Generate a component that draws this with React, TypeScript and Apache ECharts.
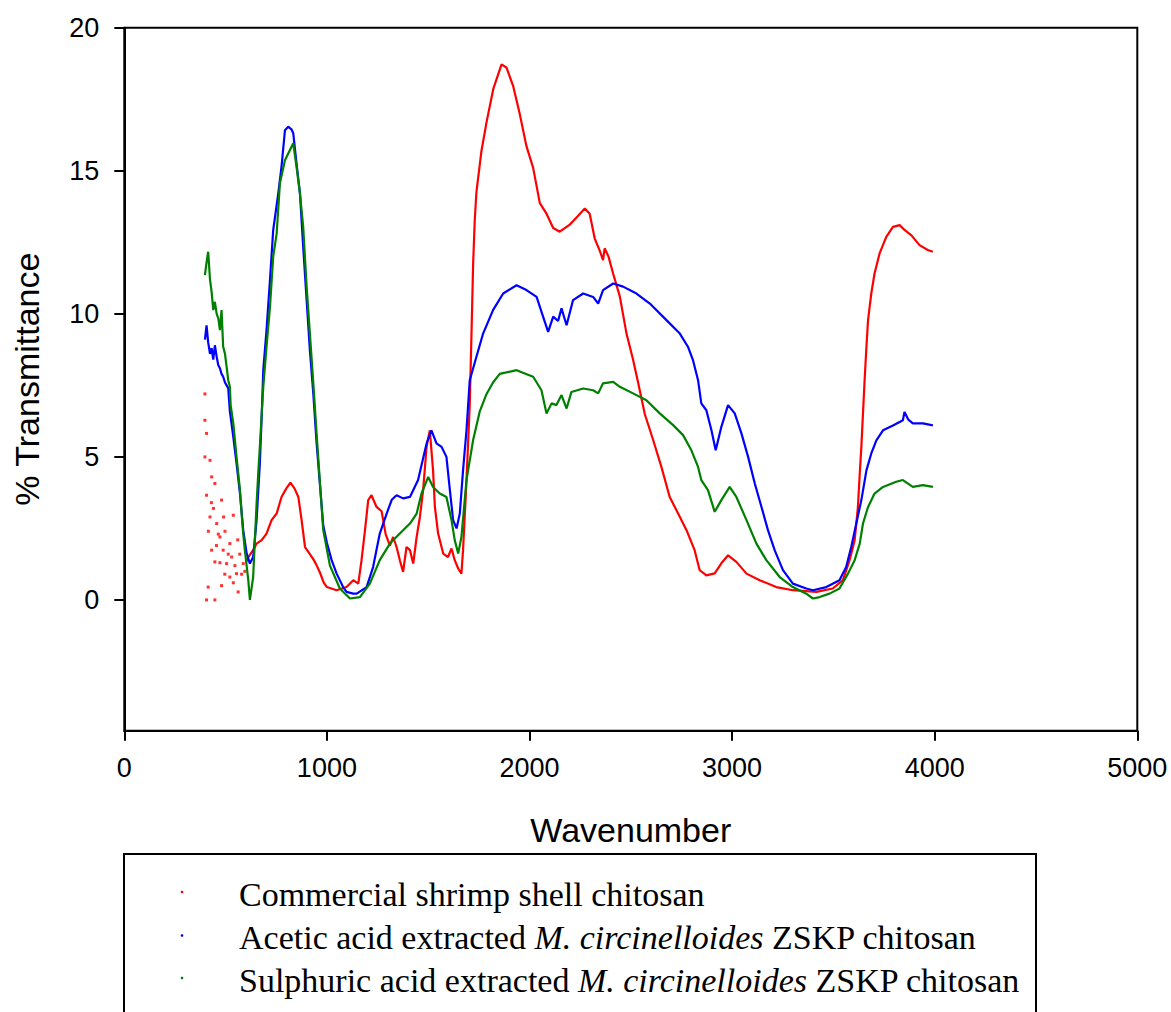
import React, { useEffect, useRef } from "react";
import * as echarts from "echarts";

// ---- Data (wavenumber, % transmittance) ----
const redNoiseWave = [398, 398, 406, 398, 423, 431, 406, 447, 423, 456, 480, 472, 431, 488, 538, 521, 447, 505, 554, 521, 562, 414, 406, 447, 587, 440, 464, 497, 513, 530, 546, 570, 579, 595, 496, 455, 472, 538, 480, 415, 430, 490, 560];
const redNoiseT = [7.2, 6.28, 5.82, 5.0, 4.88, 4.3, 3.66, 4.07, 2.9, 2.67, 3.49, 2.2, 1.74, 1.74, 2.96, 1.97, 1.33, 1.27, 0.92, 0.8, 0.28, 0.45, 0.0, 0.0, 1.27, 3.2, 2.3, 2.4, 1.6, 1.5, 1.2, 1.6, 0.9, 1.0, 0.9, 1.9, 1.3, 0.6, 0.5, 2.4, 3.4, 2.9, 2.1];

const redWave = [600, 612, 636, 653, 678, 702, 727, 752, 776, 800, 820, 840, 859, 875, 892, 916, 935, 950, 966, 985, 1000, 1048, 1097, 1130, 1155, 1171, 1188, 1204, 1220, 1245, 1270, 1290, 1311, 1327, 1344, 1360, 1376, 1393, 1410, 1426, 1443, 1459, 1475, 1492, 1508, 1524, 1533, 1549, 1574, 1598, 1615, 1631, 1648, 1664, 1672, 1681, 1689, 1705, 1714, 1722, 1730, 1738, 1763, 1788, 1821, 1862, 1887, 1919, 1952, 1985, 2018, 2051, 2084, 2117, 2149, 2199, 2232, 2273, 2297, 2322, 2347, 2363, 2371, 2390, 2413, 2446, 2479, 2511, 2536, 2569, 2610, 2651, 2692, 2725, 2775, 2815, 2840, 2873, 2914, 2947, 2980, 3021, 3071, 3136, 3218, 3300, 3416, 3497, 3547, 3580, 3605, 3621, 3630, 3638, 3646, 3654, 3663, 3671, 3687, 3703, 3728, 3761, 3794, 3827, 3851, 3884, 3925, 3966, 3991];
const redT = [1.3, 1.5, 1.74, 1.97, 2.09, 2.32, 2.79, 3.02, 3.6, 3.9, 4.1, 3.9, 3.6, 2.8, 1.85, 1.6, 1.4, 1.2, 0.95, 0.6, 0.45, 0.34, 0.45, 0.69, 0.57, 1.39, 2.44, 3.49, 3.66, 3.25, 3.1, 2.3, 1.9, 2.2, 1.85, 1.39, 0.98, 1.85, 1.74, 1.27, 2.2, 2.9, 3.84, 5.35, 5.93, 4.53, 3.25, 2.32, 1.62, 1.5, 1.8, 1.39, 1.1, 0.92, 1.74, 3.02, 4.19, 6.8, 9.4, 11.8, 13.3, 14.25, 15.7, 16.7, 17.85, 18.72, 18.6, 17.97, 16.98, 15.86, 15.1, 13.87, 13.5, 13.0, 12.87, 13.12, 13.37, 13.68, 13.5, 12.63, 12.2, 11.88, 12.29, 12.0, 11.4, 10.6, 9.3, 8.4, 7.6, 6.5, 5.6, 4.65, 3.6, 3.14, 2.44, 1.74, 1.04, 0.86, 0.93, 1.28, 1.56, 1.33, 0.92, 0.69, 0.45, 0.34, 0.28, 0.4, 0.69, 1.39, 2.09, 3.25, 4.42, 5.35, 6.52, 7.68, 8.85, 9.78, 10.71, 11.41, 12.11, 12.69, 13.04, 13.1, 12.93, 12.75, 12.4, 12.23, 12.17];

const blueWave = [398, 406, 414, 423, 431, 439, 447, 456, 464, 472, 480, 488, 497, 505, 513, 521, 538, 554, 571, 587, 604, 620, 636, 653, 669, 678, 686, 702, 719, 735, 760, 776, 793, 809, 825, 834, 850, 867, 883, 900, 916, 933, 949, 966, 982, 1000, 1023, 1048, 1080, 1097, 1130, 1147, 1196, 1228, 1261, 1295, 1320, 1344, 1376, 1410, 1450, 1492, 1516, 1541, 1566, 1590, 1607, 1623, 1640, 1656, 1672, 1689, 1705, 1738, 1771, 1820, 1870, 1936, 1985, 2035, 2067, 2092, 2117, 2141, 2158, 2183, 2215, 2265, 2314, 2339, 2363, 2413, 2462, 2528, 2594, 2676, 2742, 2782, 2807, 2832, 2848, 2873, 2898, 2919, 2947, 2980, 3013, 3046, 3079, 3112, 3145, 3177, 3210, 3251, 3300, 3366, 3399, 3465, 3530, 3563, 3588, 3613, 3638, 3663, 3687, 3712, 3745, 3794, 3843, 3851, 3870, 3892, 3942, 3991];
const blueT = [9.1, 9.6, 9.0, 8.6, 8.8, 8.4, 8.9, 8.5, 8.2, 8.1, 7.9, 7.8, 7.6, 7.5, 7.4, 6.6, 5.7, 4.77, 3.72, 2.44, 1.62, 1.27, 1.5, 2.79, 4.77, 6.4, 8.03, 9.43, 11.18, 12.93, 14.21, 15.14, 16.42, 16.54, 16.45, 16.31, 15.26, 14.21, 12.34, 10.48, 8.73, 7.2, 5.5, 4.0, 2.6, 2.0, 1.4, 0.92, 0.45, 0.28, 0.22, 0.22, 0.45, 1.15, 2.32, 3.02, 3.5, 3.66, 3.55, 3.6, 4.19, 5.47, 5.93, 5.47, 5.35, 5.0, 3.84, 2.79, 2.5, 3.02, 4.53, 5.93, 7.68, 8.5, 9.31, 10.13, 10.71, 11.0, 10.83, 10.59, 9.9, 9.37, 9.9, 9.75, 10.19, 9.6, 10.48, 10.71, 10.59, 10.36, 10.83, 11.06, 10.95, 10.71, 10.36, 9.78, 9.31, 8.85, 8.38, 7.68, 6.87, 6.63, 5.93, 5.23, 6.05, 6.81, 6.52, 5.82, 5.0, 4.07, 3.25, 2.44, 1.74, 1.04, 0.57, 0.4, 0.34, 0.45, 0.69, 1.15, 1.85, 2.67, 3.49, 4.53, 5.12, 5.58, 5.93, 6.1, 6.28, 6.57, 6.3, 6.17, 6.17, 6.1];

const greenWave = [398, 406, 414, 423, 431, 439, 447, 456, 464, 472, 480, 488, 497, 505, 513, 521, 525, 538, 554, 571, 579, 587, 595, 612, 620, 636, 653, 661, 669, 686, 702, 719, 735, 752, 768, 793, 817, 834, 850, 867, 883, 900, 916, 933, 949, 966, 982, 1015, 1064, 1114, 1163, 1212, 1261, 1311, 1360, 1410, 1443, 1467, 1500, 1524, 1557, 1590, 1615, 1631, 1648, 1664, 1689, 1722, 1755, 1788, 1820, 1853, 1936, 2018, 2059, 2084, 2109, 2133, 2158, 2183, 2207, 2265, 2314, 2339, 2363, 2413, 2446, 2511, 2577, 2643, 2709, 2758, 2799, 2832, 2848, 2881, 2914, 2947, 2988, 3021, 3071, 3120, 3169, 3235, 3300, 3366, 3399, 3432, 3481, 3530, 3572, 3605, 3630, 3646, 3671, 3703, 3745, 3810, 3843, 3892, 3942, 3991];
const greenT = [11.35, 11.8, 12.17, 11.2, 10.77, 10.13, 10.42, 10.0, 9.84, 9.43, 10.13, 8.85, 8.6, 8.15, 7.68, 7.45, 6.81, 6.17, 5.0, 3.84, 3.02, 2.32, 1.74, 0.69, 0.0, 0.8, 3.37, 4.42, 5.35, 7.45, 8.85, 10.24, 12.0, 12.8, 14.56, 15.37, 15.72, 15.96, 15.14, 14.21, 13.04, 10.94, 9.31, 7.57, 5.82, 4.07, 2.44, 1.2, 0.4, 0.05, 0.1, 0.57, 1.39, 1.97, 2.32, 2.67, 3.02, 3.72, 4.3, 3.95, 3.72, 3.6, 2.79, 2.09, 1.62, 2.2, 4.19, 5.6, 6.6, 7.2, 7.6, 7.9, 8.03, 7.8, 7.33, 6.52, 6.87, 6.81, 7.16, 6.69, 7.27, 7.39, 7.33, 7.22, 7.57, 7.62, 7.45, 7.22, 6.98, 6.52, 6.11, 5.76, 5.23, 4.65, 4.19, 3.84, 3.08, 3.49, 3.95, 3.6, 2.79, 1.97, 1.39, 0.8, 0.45, 0.22, 0.05, 0.1, 0.22, 0.4, 0.92, 1.39, 1.97, 2.67, 3.25, 3.72, 3.95, 4.13, 4.19, 3.95, 4.01, 3.95];

const xTicks = [0, 1000, 2000, 3000, 4000, 5000];
const yTicks = [0, 5, 10, 15, 20];
const seriesNames = [
  "Commercial shrimp shell chitosan",
  "Acetic acid extracted M. circinelloides ZSKP chitosan",
  "Sulphuric acid extracted M. circinelloides ZSKP chitosan",
];
const legendRich = [
  "{n|Commercial shrimp shell chitosan}",
  "{n|Acetic acid extracted }{i|M. circinelloides}{n| ZSKP chitosan}",
  "{n|Sulphuric acid extracted }{i|M. circinelloides}{n| ZSKP chitosan}",
];
const colors = ["#ff0000", "#0000ff", "#008000"];

const zip = (xs: number[], ys: number[]) => xs.map((x, i) => [x, ys[i]]);

export default function App() {
  const ref = useRef<HTMLDivElement>(null);
  useEffect(() => {
    const chart = echarts.init(ref.current!, null, { renderer: "svg" });
    const sans = "Liberation Sans, Arial, sans-serif";
    const serif = "Liberation Serif, Times New Roman, serif";
    const legendY = [892, 935.5, 978];
    const textY = [894, 937.5, 980];
    const graphics: any[] = [
      {
        type: "rect",
        shape: { x: 124, y: 854, width: 912, height: 220 },
        style: { fill: "#fff", stroke: "#000", lineWidth: 2 },
        z: 10,
      },
    ];
    legendRich.forEach((t, i) => {
      graphics.push({
        type: "circle",
        shape: { cx: 182, cy: legendY[i], r: 1.3 },
        style: { fill: colors[i] },
        z: 11,
      });
      graphics.push({
        type: "text",
        x: 239,
        y: textY[i],
        z: 11,
        style: {
          text: t,
          verticalAlign: "middle",
          align: "left",
          fill: "#000",
          font: `34px ${serif}`,
          rich: {
            n: { fontFamily: serif, fontSize: 34, fill: "#000", color: "#000" },
            i: { fontFamily: serif, fontSize: 34, fontStyle: "italic", fill: "#000", color: "#000" },
          },
        },
      });
    });

    chart.setOption({
      animation: false,
      backgroundColor: "#ffffff",
      grid: {
        left: 124.3,
        top: 27.7,
        width: 1013,
        height: 703,
        show: true,
        borderColor: "#000",
        borderWidth: 2,
        backgroundColor: "transparent",
      },
      xAxis: {
        type: "value",
        min: 0,
        max: 5000,
        interval: 1000,
        name: "Wavenumber",
        nameLocation: "middle",
        nameGap: 82,
        nameTextStyle: { fontFamily: sans, fontSize: 34, color: "#000" },
        axisLine: { show: true, onZero: false, lineStyle: { color: "#000", width: 2 } },
        axisTick: { show: true, inside: false, length: 10, lineStyle: { color: "#000", width: 2 } },
        axisLabel: {
          fontFamily: sans,
          fontSize: 27,
          color: "#000",
          margin: 24,
          customValues: xTicks,
          formatter: (v: number) => String(v),
        },
        splitLine: { show: false },
      },
      yAxis: {
        type: "value",
        min: -4.57,
        max: 20,
        name: "% Transmittance",
        nameLocation: "middle",
        nameRotate: 90,
        nameGap: 80,
        nameTextStyle: { fontFamily: sans, fontSize: 34, color: "#000" },
        axisLine: { show: true, onZero: false, lineStyle: { color: "#000", width: 2 } },
        axisTick: {
          show: true,
          inside: false,
          length: 10,
          lineStyle: { color: "#000", width: 2 },
          customValues: yTicks,
        },
        axisLabel: {
          fontFamily: sans,
          fontSize: 27,
          color: "#000",
          margin: 25,
          customValues: yTicks,
          formatter: (v: number) => String(v),
        },
        splitLine: { show: false },
      },
      series: [
        {
          name: seriesNames[0],
          type: "scatter",
          data: zip(redNoiseWave, redNoiseT),
          symbol: "rect",
          symbolSize: 3,
          itemStyle: { color: colors[0] },
          silent: true,
        },
        {
          name: seriesNames[0],
          type: "line",
          data: zip(redWave, redT),
          showSymbol: false,
          lineStyle: { color: colors[0], width: 2.2 },
          itemStyle: { color: colors[0] },
        },
        {
          name: seriesNames[1],
          type: "line",
          data: zip(blueWave, blueT),
          showSymbol: false,
          lineStyle: { color: colors[1], width: 2.2 },
          itemStyle: { color: colors[1] },
        },
        {
          name: seriesNames[2],
          type: "line",
          data: zip(greenWave, greenT),
          showSymbol: false,
          lineStyle: { color: colors[2], width: 2.2 },
          itemStyle: { color: colors[2] },
        },
      ],
      graphic: graphics,
    });
    return () => chart.dispose();
  }, []);
  return (
    <div
      ref={ref}
      style={{ position: "absolute", left: 0, top: 0, width: 1171, height: 1012 }}
    />
  );
}
